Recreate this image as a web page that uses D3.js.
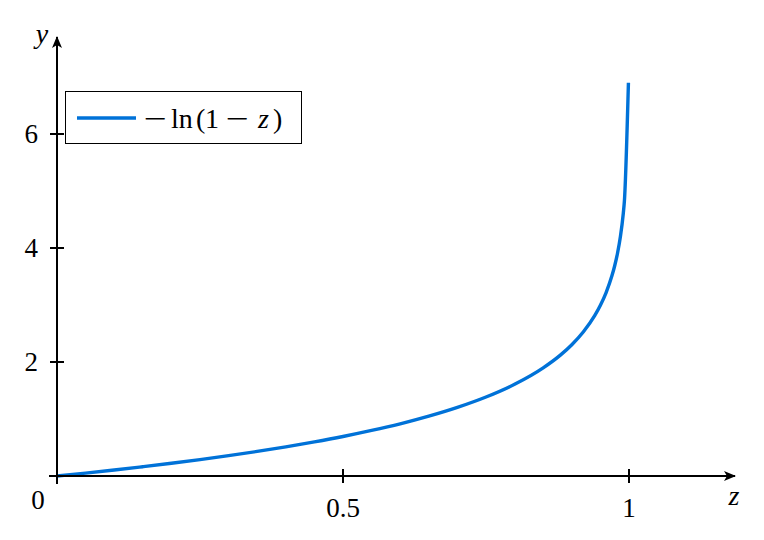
<!DOCTYPE html>
<html><head><meta charset="utf-8">
<script src="https://cdn.jsdelivr.net/npm/d3@7"></script>
<style>body{margin:0;background:#fff}svg{display:block}text{font-family:"Liberation Serif","DejaVu Serif",serif;fill:#000}</style>
</head><body>
<script>
const zVals = [0, 0.05, 0.1, 0.15, 0.2, 0.25, 0.3, 0.35, 0.4, 0.45, 0.5, 0.55, 0.6, 0.65, 0.7, 0.75, 0.8, 0.85, 0.88, 0.9, 0.92, 0.94, 0.95, 0.96, 0.97, 0.975, 0.98, 0.985, 0.99, 0.992, 0.999];
const yVals = [0, 0.051, 0.105, 0.163, 0.223, 0.288, 0.357, 0.431, 0.511, 0.598, 0.693, 0.799, 0.916, 1.050, 1.204, 1.386, 1.609, 1.897, 2.120, 2.303, 2.526, 2.813, 2.996, 3.219, 3.507, 3.689, 3.912, 4.200, 4.605, 4.83, 6.9];
const xTicks = [0, 0.5, 1];
const xTickLabels = ["0.5", "1"];
const yTicks = [0, 2, 4, 6];
const yTickLabels = ["2", "4", "6"];
const legendParts = [["−", false], ["ln", false], ["(", false], ["1", false], ["−", false], ["z", true], [")", false]];

const W = 764, H = 540;
const svg = d3.select("body").append("svg").attr("width", W).attr("height", H);
const x = d3.scaleLinear().domain([0, 1]).range([57, 629]);
const y = d3.scaleLinear().domain([0, 6]).range([476, 134]);

const defs = svg.append("defs");
defs.append("marker").attr("id","arr").attr("viewBox","0 0 12 10").attr("refX",11).attr("refY",5)
  .attr("markerWidth",12).attr("markerHeight",10).attr("markerUnits","userSpaceOnUse").attr("orient","auto")
  .append("path").attr("d","M0,0 L12,5 L0,10 L3,5 Z").attr("fill","#000");

const data = zVals.map((z,i)=>[z,yVals[i]]);
svg.append("path").datum(data)
  .attr("d", d3.line().x(d=>x(d[0])).y(d=>y(d[1])).curve(d3.curveMonotoneX))
  .attr("fill","none").attr("stroke","#0072d8").attr("stroke-width",3.4).attr("stroke-linejoin","round");

svg.append("line").attr("x1",49).attr("x2",735).attr("y1",y(0)).attr("y2",y(0))
  .attr("stroke","#000").attr("stroke-width",2).attr("marker-end","url(#arr)");
svg.append("line").attr("x1",x(0)).attr("x2",x(0)).attr("y1",484).attr("y2",37)
  .attr("stroke","#000").attr("stroke-width",2).attr("marker-end","url(#arr)");

svg.selectAll(".xt").data(xTicks).enter().append("line")
  .attr("x1",d=>x(d)).attr("x2",d=>x(d)).attr("y1",y(0)-7).attr("y2",y(0)+7)
  .attr("stroke","#000").attr("stroke-width",2);
svg.selectAll(".yt").data(yTicks).enter().append("line")
  .attr("x1",x(0)-7).attr("x2",x(0)+7).attr("y1",d=>y(d)).attr("y2",d=>y(d))
  .attr("stroke","#000").attr("stroke-width",2);

svg.selectAll(".xl").data(xTicks.slice(1)).enter().append("text")
  .attr("x",d=>x(d)).attr("y",517).attr("text-anchor","middle").attr("font-size",27)
  .text((d,i)=>xTickLabels[i]);
svg.selectAll(".yl").data(yTicks.slice(1)).enter().append("text")
  .attr("x",38).attr("y",d=>y(d)+9).attr("text-anchor","end").attr("font-size",27)
  .text((d,i)=>yTickLabels[i]);
svg.append("text").attr("x",38).attr("y",509).attr("text-anchor","middle").attr("font-size",27).text("0");

svg.append("text").attr("x",42).attr("y",43).attr("text-anchor","middle").attr("font-size",28).attr("font-style","italic").text("y");
svg.append("text").attr("x",734).attr("y",505).attr("text-anchor","middle").attr("font-size",28).attr("font-style","italic").text("z");

svg.append("rect").attr("x",65.5).attr("y",91.5).attr("width",236).attr("height",52)
  .attr("fill","#fff").attr("stroke","#000").attr("stroke-width",1);
svg.append("line").attr("x1",77).attr("x2",136).attr("y1",118).attr("y2",118)
  .attr("stroke","#0072d8").attr("stroke-width",3.4);
const partX = [144, 171, 196, 205, 226, 258, 273];
const g = svg.append("g");
g.selectAll("text").data(legendParts).enter().append("text")
  .attr("x",(d,i)=>partX[i]).attr("y",128).attr("font-size",28)
  .attr("font-style",d=>d[1]?"italic":"normal")
  .each(function(d){ if(d[0]==="−") d3.select(this).attr("textLength",23).attr("lengthAdjust","spacingAndGlyphs"); })
  .text(d=>d[0]);
</script>
</body></html>
